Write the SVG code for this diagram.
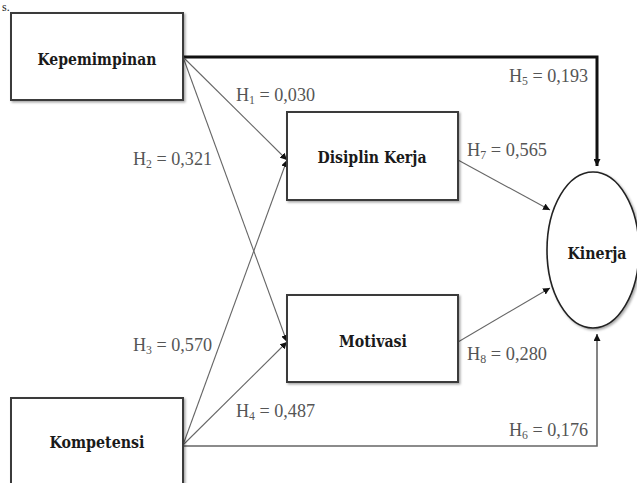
<svg xmlns="http://www.w3.org/2000/svg" width="637" height="483" viewBox="0 0 637 483">
  <defs>
    <marker id="arrow" viewBox="0 0 10 10" refX="10" refY="5" markerWidth="7" markerHeight="7" markerUnits="userSpaceOnUse" orient="auto">
      <path d="M0,0 L10,5 L0,10 z" fill="#111"/>
    </marker>
    <filter id="shadow" x="-5%" y="-5%" width="115%" height="120%">
      <feDropShadow dx="1.5" dy="1.5" stdDeviation="1" flood-color="#000" flood-opacity="0.35"/>
    </filter>
  </defs>
  <style>
    .box { fill: #fff; stroke: #3a3a3a; stroke-width: 2; filter: url(#shadow); }
    .node-label { font-family: "DejaVu Serif", "Liberation Serif", serif; font-weight: bold; font-size: 16px; fill: #1a1a1a; text-anchor: middle; }
    .edge { fill: none; stroke: #666; stroke-width: 1.1; }
    .edge-bold { fill: none; stroke: #111; stroke-width: 3; }
    .edge-mid { fill: none; stroke: #666; stroke-width: 1.6; }
    .coef { font-family: "Liberation Serif", "Times New Roman", serif; font-size: 18.5px; fill: #555; }
    .sub { font-size: 12px; }
  </style>
  <rect width="637" height="483" fill="#fff"/>

  <!-- running text above the figure -->
  <text x="2" y="11" font-family="Liberation Serif, serif" font-size="12" fill="#222">s.</text>

  <!-- connectors -->
  <g id="connectors">
    <polyline class="edge-bold" points="183,57 597,57 597,166" marker-end="url(#arrow)"/>
    <line class="edge" x1="183" y1="57" x2="287" y2="160" marker-end="url(#arrow)"/>
    <line class="edge" x1="183" y1="57" x2="287" y2="342" marker-end="url(#arrow)"/>
    <line class="edge" x1="183" y1="445" x2="287" y2="160" marker-end="url(#arrow)"/>
    <line class="edge" x1="183" y1="445" x2="287" y2="342" marker-end="url(#arrow)"/>
    <polyline class="edge-mid" points="183,446 597,446 597,334" marker-end="url(#arrow)"/>
    <line class="edge" x1="458" y1="160" x2="550" y2="210" marker-end="url(#arrow)"/>
    <line class="edge" x1="458" y1="342" x2="550" y2="288" marker-end="url(#arrow)"/>

    <!-- path coefficients -->
    <text class="coef" x="236" y="101" textLength="79" lengthAdjust="spacingAndGlyphs">H<tspan class="sub" dy="3">1</tspan><tspan dy="-3"> = 0,030</tspan></text>
    <text class="coef" x="133" y="165" textLength="79" lengthAdjust="spacingAndGlyphs">H<tspan class="sub" dy="3">2</tspan><tspan dy="-3"> = 0,321</tspan></text>
    <text class="coef" x="133" y="351" textLength="79" lengthAdjust="spacingAndGlyphs">H<tspan class="sub" dy="3">3</tspan><tspan dy="-3"> = 0,570</tspan></text>
    <text class="coef" x="236" y="417" textLength="79" lengthAdjust="spacingAndGlyphs">H<tspan class="sub" dy="3">4</tspan><tspan dy="-3"> = 0,487</tspan></text>
    <text class="coef" x="509" y="82" textLength="79" lengthAdjust="spacingAndGlyphs">H<tspan class="sub" dy="3">5</tspan><tspan dy="-3"> = 0,193</tspan></text>
    <text class="coef" x="509" y="436" textLength="79" lengthAdjust="spacingAndGlyphs">H<tspan class="sub" dy="3">6</tspan><tspan dy="-3"> = 0,176</tspan></text>
    <text class="coef" x="467" y="156" textLength="80" lengthAdjust="spacingAndGlyphs">H<tspan class="sub" dy="3">7</tspan><tspan dy="-3"> = 0,565</tspan></text>
    <text class="coef" x="467" y="360" textLength="80" lengthAdjust="spacingAndGlyphs">H<tspan class="sub" dy="3">8</tspan><tspan dy="-3"> = 0,280</tspan></text>
  </g>

  <!-- nodes -->
  <g id="kepemimpinan">
    <rect class="box" x="11" y="13" width="172" height="87"/>
    <text class="node-label" x="97" y="65" textLength="119" lengthAdjust="spacingAndGlyphs">Kepemimpinan</text>
  </g>
  <g id="kompetensi">
    <rect class="box" x="11" y="398" width="172" height="95"/>
    <text class="node-label" x="97" y="448" textLength="95" lengthAdjust="spacingAndGlyphs">Kompetensi</text>
  </g>
  <g id="disiplin-kerja">
    <rect class="box" x="287" y="112" width="171" height="88"/>
    <text class="node-label" x="372" y="163" textLength="109" lengthAdjust="spacingAndGlyphs">Disiplin Kerja</text>
  </g>
  <g id="motivasi">
    <rect class="box" x="287" y="295" width="171" height="87"/>
    <text class="node-label" x="373" y="347" textLength="68" lengthAdjust="spacingAndGlyphs">Motivasi</text>
  </g>
  <g id="kinerja">
    <ellipse cx="593" cy="250" rx="46" ry="78" fill="#fff" stroke="#222" stroke-width="1.6" filter="url(#shadow)"/>
    <text class="node-label" x="597" y="259" textLength="59" lengthAdjust="spacingAndGlyphs">Kinerja</text>
  </g>
</svg>
